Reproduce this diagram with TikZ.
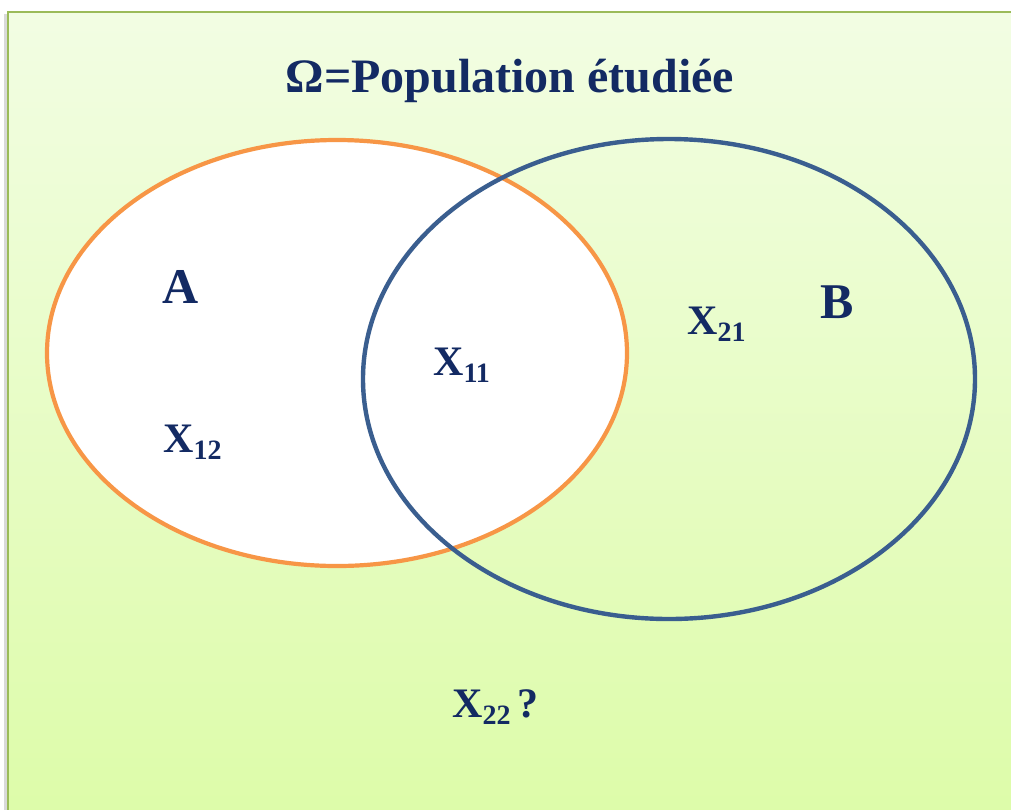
\documentclass[tikz,border=0pt]{standalone}
\usepackage{fontspec}
\setmainfont{Liberation Serif}
\definecolor{txt}{HTML}{132A63}
\definecolor{orangeA}{HTML}{F79646}
\definecolor{blueB}{HTML}{3A5E8F}
\definecolor{frame}{HTML}{9BBB59}
\definecolor{bgtop}{HTML}{F2FDE3}
\definecolor{bgbot}{HTML}{DDFCA9}
\newcommand{\xsub}[2]{X\raisebox{-7pt}{\fontsize{28}{28}\selectfont #1}#2}
\tikzset{
  lbl/.style={text=txt, font=\bfseries\fontsize{42}{42}\selectfont, anchor=base west, inner sep=0pt},
  big/.style={text=txt, font=\bfseries\fontsize{50}{50}\selectfont, anchor=base, inner sep=0pt},
  setA/.style={draw=orangeA, line width=4.2pt, fill=white},
  setB/.style={draw=blueB, line width=4.4pt},
}
\begin{document}
\begin{tikzpicture}[x=1pt,y=1pt]
\useasboundingbox (0,0) rectangle (1011,-809);
\clip (0,0) rectangle (1011,-809);
\fill[white] (0,0) rectangle (1011,-809);
% shadow
\draw[line width=3pt, black!15] (5.5,-14) -- (5.5,-815);
\shade[top color=bgtop, bottom color=bgbot] (8,-12) rectangle (1020,-815);
\draw[frame, line width=2.2pt] (8,-815) -- (8,-12) -- (1020,-12);
% sets
\draw[setA] (337,-353) ellipse [x radius=290, y radius=213];
\draw[setB] (669,-379) ellipse [x radius=306, y radius=240];
% labels
\node[big, font=\bfseries\fontsize{48}{48}\selectfont] (title) at (510,-92) {Ω=Population étudiée};
\node[big] (A) at (181,-303) {A};
\node[big] (B) at (837,-318) {B};
\node[lbl] (x11) at (433,-375) {\xsub{11}{}};
\node[lbl] (x12) at (163,-452) {\xsub{12}{}};
\node[lbl] (x21) at (687,-334) {\xsub{21}{}};
\node[lbl] (x22) at (452,-717) {\xsub{22}{\hspace{7pt}?}};
\end{tikzpicture}
\end{document}
